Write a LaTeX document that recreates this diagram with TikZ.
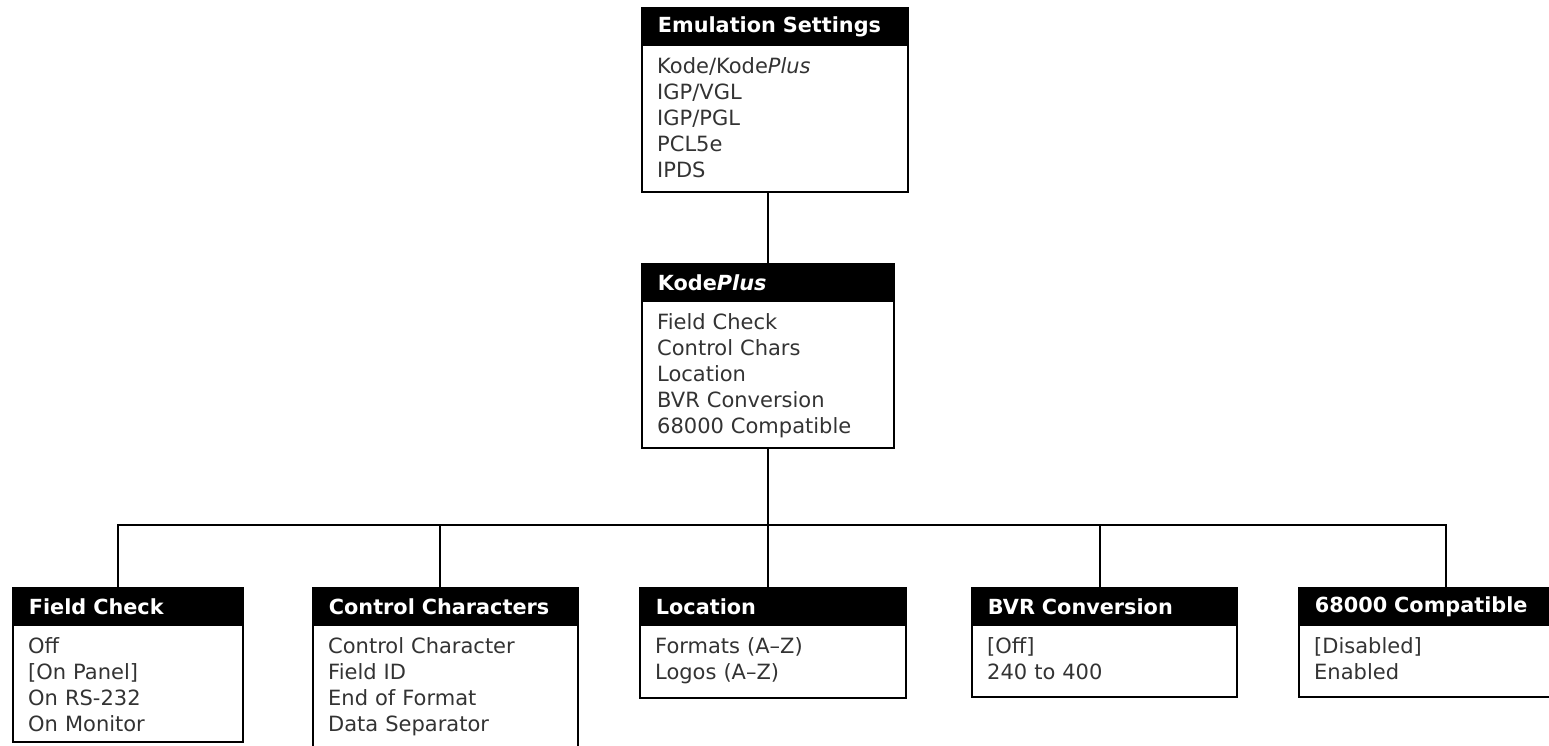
\documentclass[tikz,border=0pt]{standalone}
\usepackage{fontspec}
\setmainfont{DejaVu Sans}
\usetikzlibrary{positioning}
\definecolor{mytext}{gray}{0.2}

\begin{document}
\begin{tikzpicture}[x=1pt,y=-1pt,
  head/.style={fill=black,draw=black,line width=1.8pt,anchor=north west,
    minimum height=37pt,inner xsep=16pt,inner ysep=0pt,align=left,
    text=white,font=\bfseries\fontsize{20.8}{24}\selectfont},
  frame/.style={draw,line width=1.8pt,anchor=north west,inner sep=0pt},
  items/.style={anchor=base west,inner sep=0pt,text width=260pt,align=left,
    text=mytext,font=\fontsize{21}{26}\selectfont},
  wire/.style={line width=1.8pt}]
  \useasboundingbox (0,0) rectangle (1549,745);

  % top levels
  \node[head,text width=234pt] (emuH) at (641,7) {Emulation Settings};
  \node[frame,minimum width=266pt,minimum height=184pt] (emuB) at (emuH.north west) {};
  \node[items] (emuT) at ([shift={(16,28)}]emuH.south west)
    {Kode/Kode\textit{Plus}\\IGP/VGL\\IGP/PGL\\PCL5e\\IPDS};

  \node[head,text width=220pt] (kpH) at (641,263) {Kode\textit{Plus}};
  \node[frame,minimum width=252pt,minimum height=184pt] (kpB) at (kpH.north west) {};
  \node[items] (kpT) at ([shift={(16,28)}]kpH.south west)
    {Field Check\\Control Chars\\Location\\BVR Conversion\\68000 Compatible};

  % bottom row
  \node[head,text width=198pt] (fcH) at (12,587) {Field Check};
  \node[frame,minimum width=230pt,minimum height=154pt] (fcB) at (fcH.north west) {};
  \node[items] (fcT) at ([shift={(16,28)}]fcH.south west)
    {Off\\{[On Panel]}\\On RS-232\\On Monitor};

  \node[head,text width=233pt] (ccH) at (312,587) {Control Characters};
  \node[frame,minimum width=265pt,minimum height=200pt] (ccB) at (ccH.north west) {};
  \node[items] (ccT) at ([shift={(16,28)}]ccH.south west)
    {Control Character\\Field ID\\End of Format\\Data Separator};

  \node[head,text width=234pt] (locH) at (639,587) {Location};
  \node[frame,minimum width=266pt,minimum height=110pt] (locB) at (locH.north west) {};
  \node[items] (locT) at ([shift={(16,28)}]locH.south west)
    {Formats (A--Z)\\Logos (A--Z)};

  \node[head,text width=233pt] (bvrH) at (971,587) {BVR Conversion};
  \node[frame,minimum width=265pt,minimum height=109pt] (bvrB) at (bvrH.north west) {};
  \node[items] (bvrT) at ([shift={(16,28)}]bvrH.south west)
    {{[Off]}\\240 to 400};

  \node[head,text width=268pt] (cmpH) at (1298,587) {68000 Compatible};
  \node[frame,minimum width=300pt,minimum height=109pt] (cmpB) at (cmpH.north west) {};
  \node[items] (cmpT) at ([shift={(16,28)}]cmpH.south west)
    {{[Disabled]}\\Enabled};

  % connectors
  \coordinate (bus) at (768,525);
  \coordinate (fcIn) at ([xshift=106pt]fcH.north west);
  \coordinate (ccIn) at ([xshift=128pt]ccH.north west);
  \coordinate (locIn) at ([xshift=129pt]locH.north west);
  \coordinate (bvrIn) at ([xshift=129pt]bvrH.north west);
  \coordinate (cmpIn) at ([xshift=148pt]cmpH.north west);
  \draw[wire] (kpH.north |- emuB.south) -- (kpH.north);
  \draw[wire] (locIn |- kpB.south) -- (locIn);
  \draw[wire] (fcIn) |- (bus) -| (cmpIn);
  \draw[wire] (ccIn) -- (ccIn |- bus);
  \draw[wire] (bvrIn) -- (bvrIn |- bus);
\end{tikzpicture}
\end{document}
